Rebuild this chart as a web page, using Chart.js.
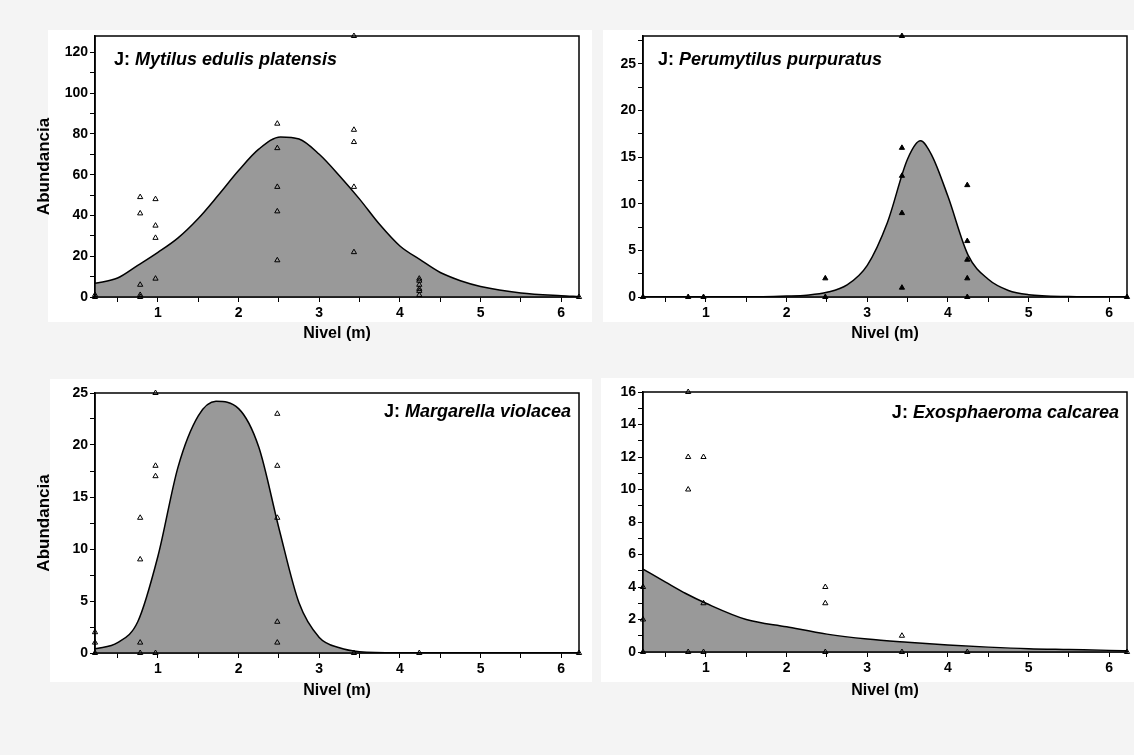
<!DOCTYPE html>
<html>
<head>
<meta charset="utf-8">
<script src="https://cdn.jsdelivr.net/npm/chart.js@4.4.1/dist/chart.umd.min.js"></script>
<style>
  body { margin: 0; background: #f4f4f4; width: 1134px; height: 755px; overflow: hidden; position: relative; font-family: "Liberation Sans", Arial, sans-serif; }
  .sheet { position: absolute; background: #fff; }
  .panel { position: absolute; }
</style>
</head>
<body>
<div class="sheet" style="left:48px;top:30px;width:544px;height:292px"></div>
<div class="sheet" style="left:603px;top:30px;width:531px;height:292px"></div>
<div class="sheet" style="left:50px;top:379px;width:542px;height:303px"></div>
<div class="sheet" style="left:601px;top:378px;width:533px;height:304px"></div>

<div class="panel" style="left:0;top:0"><canvas id="p1" width="590" height="362"></canvas></div>
<div class="panel" style="left:590px;top:0"><canvas id="p2" width="544" height="362"></canvas></div>
<div class="panel" style="left:0;top:362px"><canvas id="p3" width="590" height="393"></canvas></div>
<div class="panel" style="left:590px;top:362px"><canvas id="p4" width="544" height="393"></canvas></div>

<script>
// Nivel axis
const nivelMin = 0.22;
const nivelMax = 6.22;
const nivelTicks = [1, 2, 3, 4, 5, 6];

// Mytilus edulis platensis
const mytilusNivel = [0.22, 0.22, 0.78, 0.78, 0.78, 0.78, 0.78, 0.97, 0.97, 0.97, 0.97,
  2.48, 2.48, 2.48, 2.48, 2.48, 3.43, 3.43, 3.43, 3.43, 3.43, 4.24, 4.24, 4.24, 4.24, 4.24, 4.24, 6.22];
const mytilusAbund = [0, 1, 49, 41, 6, 1, 0, 48, 35, 29, 9,
  85, 73, 54, 42, 18, 128, 82, 76, 54, 22, 9, 8, 6, 4, 3, 1, 0];
const mytilusCurveNivel = [0.22, 0.5, 0.75, 1, 1.25, 1.5, 1.75, 2, 2.25, 2.52, 2.75, 3, 3.25, 3.5, 3.75, 4, 4.25, 4.5, 4.75, 5, 5.5, 6, 6.22];
const mytilusCurve = [6.7, 9.3, 15.5, 21.9, 29, 38.5, 50, 62, 72.5, 78.5, 77.5, 70, 59.5, 48, 35.5, 25, 18.3, 12, 8, 5.2, 2, 0.6, 0.2];
const mytilusTicks = [0, 20, 40, 60, 80, 100, 120];

// Perumytilus purpuratus
const perumytilusNivel = [0.22, 0.78, 0.97, 2.48, 2.48, 3.43, 3.43, 3.43, 3.43, 3.43, 4.24, 4.24, 4.24, 4.24, 4.24, 6.22];
const perumytilusAbund = [0, 0, 0, 2, 0, 28, 16, 13, 9, 1, 12, 6, 4, 2, 0, 0];
const perumytilusCurveNivel = [0.22, 1.5, 2, 2.25, 2.5, 2.75, 3, 3.25, 3.5, 3.66, 3.8, 4, 4.25, 4.5, 4.75, 5, 5.5, 6.22];
const perumytilusCurve = [0, 0, 0.1, 0.2, 0.5, 1.3, 3.4, 8, 14.8, 16.75, 15.2, 10.8, 4.5, 1.9, 0.7, 0.25, 0.05, 0];
const perumytilusTicks = [0, 5, 10, 15, 20, 25];

// Margarella violacea
const margarellaNivel = [0.22, 0.22, 0.22, 0.78, 0.78, 0.78, 0.78, 0.97, 0.97, 0.97, 0.97,
  2.48, 2.48, 2.48, 2.48, 2.48, 3.43, 4.24, 6.22];
const margarellaAbund = [2, 1, 0, 13, 9, 1, 0, 25, 18, 17, 0, 23, 18, 13, 3, 1, 0, 0, 0];
const margarellaCurveNivel = [0.22, 0.5, 0.75, 1, 1.25, 1.5, 1.72, 2, 2.25, 2.5, 2.75, 3, 3.25, 3.5, 4, 6.22];
const margarellaCurve = [0.4, 1.0, 3.0, 9.3, 17.9, 22.8, 24.2, 23.5, 19.8, 12, 4.8, 1.5, 0.5, 0.13, 0.02, 0];
const margarellaTicks = [0, 5, 10, 15, 20, 25];

// Exosphaeroma calcarea
const exosphaeromaNivel = [0.22, 0.22, 0.22, 0.78, 0.78, 0.78, 0.78, 0.97, 0.97, 0.97, 2.48, 2.48, 2.48, 3.43, 3.43, 4.24, 6.22];
const exosphaeromaAbund = [4, 2, 0, 16, 12, 10, 0, 12, 3, 0, 4, 3, 0, 1, 0, 0, 0];
const exosphaeromaCurveNivel = [0.22, 0.5, 0.75, 1, 1.5, 2, 2.5, 3, 3.5, 4, 4.5, 5, 5.5, 6, 6.22];
const exosphaeromaCurve = [5.1, 4.3, 3.6, 3.0, 2.0, 1.55, 1.1, 0.8, 0.6, 0.43, 0.3, 0.2, 0.15, 0.1, 0.08];
const exosphaeromaTicks = [0, 2, 4, 6, 8, 10, 12, 14, 16];

const FONT = '"Liberation Sans", Arial, sans-serif';

function pairs(xs, ys) {
  return xs.map((x, i) => ({ x: x, y: ys[i] }));
}

// majors plus a minor tick half way between them
function withMinor(majors, min, max) {
  const step = majors[1] - majors[0];
  const all = majors.slice();
  majors.forEach(m => all.push(m - step / 2));
  all.push(majors[majors.length - 1] + step / 2);
  return all.filter(v => v >= min - 1e-9 && v <= max + 1e-9).sort((a, b) => a - b);
}

// box around the plot area
const frame = {
  id: 'frame',
  afterDatasetsDraw(chart) {
    const { ctx, chartArea: a } = chart;
    ctx.save();
    ctx.strokeStyle = '#000';
    ctx.lineWidth = 1.5;
    ctx.strokeRect(a.left, a.top, a.right - a.left, a.bottom - a.top);
    ctx.restore();
  }
};

// "J: species" label inside the plot
const speciesTitle = {
  id: 'speciesTitle',
  afterDatasetsDraw(chart, args, opts) {
    const { ctx, chartArea: a } = chart;
    ctx.save();
    ctx.fillStyle = '#000';
    ctx.textBaseline = 'alphabetic';
    ctx.font = 'bold 18px ' + FONT;
    const w1 = ctx.measureText(opts.prefix).width;
    ctx.font = 'italic bold 18px ' + FONT;
    const w2 = ctx.measureText(opts.text).width;
    const x = opts.align === 'right' ? a.right - opts.dx - w1 - w2 : a.left + opts.dx;
    const y = a.top + opts.dy;
    ctx.font = 'bold 18px ' + FONT;
    ctx.fillText(opts.prefix, x, y);
    ctx.font = 'italic bold 18px ' + FONT;
    ctx.fillText(opts.text, x + w1, y);
    ctx.restore();
  }
};

function makePanel(cfg) {
  const canvas = document.getElementById(cfg.id);
  const yMinor = withMinor(cfg.yTicks, 0, cfg.yMax);
  const xMinor = withMinor(nivelTicks, nivelMin, nivelMax);
  new Chart(canvas, {
    data: {
      datasets: [
        {
          type: 'scatter',
          data: pairs(cfg.nivel, cfg.abund),
          pointStyle: 'triangle',
          pointRadius: 3,
          pointBorderWidth: 1,
          pointBorderColor: '#000',
          pointBackgroundColor: cfg.solid ? '#000' : 'rgba(0,0,0,0)',
          clip: false
        },
        {
          type: 'line',
          data: pairs(cfg.curveNivel, cfg.curve),
          borderColor: '#000',
          borderWidth: 1.5,
          backgroundColor: '#999999',
          fill: 'origin',
          pointRadius: 0,
          cubicInterpolationMode: 'monotone'
        }
      ]
    },
    options: {
      responsive: false,
      animation: false,
      layout: { padding: { left: 0, top: cfg.top, right: canvas.width - cfg.right, bottom: 0 } },
      plugins: {
        legend: { display: false },
        tooltip: { enabled: false },
        speciesTitle: cfg.title
      },
      scales: {
        x: {
          type: 'linear',
          min: nivelMin,
          max: nivelMax,
          afterBuildTicks: s => { s.ticks = xMinor.map(v => ({ value: v })); },
          afterFit: s => { s.height = canvas.height - cfg.bottom; },
          ticks: {
            autoSkip: false,
            maxRotation: 0,
            padding: 3,
            color: '#000',
            font: { family: FONT, size: 14, weight: 'bold' },
            callback: v => nivelTicks.includes(v) ? String(v) : ''
          },
          grid: { drawOnChartArea: false, tickLength: 5, color: '#000', lineWidth: 1 },
          border: { color: '#000', width: 1.5 },
          title: {
            display: true,
            text: 'Nivel (m)',
            color: '#000',
            font: { family: FONT, size: 16, weight: 'bold' },
            padding: { top: 0, bottom: cfg.xTitlePad }
          }
        },
        y: {
          type: 'linear',
          min: 0,
          max: cfg.yMax,
          afterBuildTicks: s => { s.ticks = yMinor.map(v => ({ value: v })); },
          afterFit: s => { s.width = cfg.left; },
          ticks: {
            autoSkip: false,
            padding: 2,
            color: '#000',
            font: { family: FONT, size: 14, weight: 'bold' },
            callback: v => cfg.yTicks.includes(v) ? String(v) : ''
          },
          grid: { drawOnChartArea: false, tickLength: 5, color: '#000', lineWidth: 1 },
          border: { color: '#000', width: 1.5 },
          title: {
            display: cfg.yTitle,
            text: 'Abundancia',
            color: '#000',
            font: { family: FONT, size: 17, weight: 'bold' },
            padding: { top: 34, bottom: 0 }
          }
        }
      }
    },
    plugins: [frame, speciesTitle]
  });
}

makePanel({
  id: 'p1', left: 95, top: 36, right: 579, bottom: 297, xTitlePad: 19, yTitle: true,
  nivel: mytilusNivel, abund: mytilusAbund, curveNivel: mytilusCurveNivel, curve: mytilusCurve,
  yTicks: mytilusTicks, yMax: 128, solid: false,
  title: { prefix: 'J: ', text: 'Mytilus edulis platensis', align: 'left', dx: 19, dy: 29 }
});
makePanel({
  id: 'p2', left: 53, top: 36, right: 537, bottom: 297, xTitlePad: 19, yTitle: false,
  nivel: perumytilusNivel, abund: perumytilusAbund, curveNivel: perumytilusCurveNivel, curve: perumytilusCurve,
  yTicks: perumytilusTicks, yMax: 28, solid: true,
  title: { prefix: 'J: ', text: 'Perumytilus purpuratus', align: 'left', dx: 15, dy: 29 }
});
makePanel({
  id: 'p3', left: 95, top: 31, right: 579, bottom: 291, xTitlePad: 55, yTitle: true,
  nivel: margarellaNivel, abund: margarellaAbund, curveNivel: margarellaCurveNivel, curve: margarellaCurve,
  yTicks: margarellaTicks, yMax: 25, solid: false,
  title: { prefix: 'J: ', text: 'Margarella violacea', align: 'right', dx: 8, dy: 24 }
});
makePanel({
  id: 'p4', left: 53, top: 30, right: 537, bottom: 290, xTitlePad: 55, yTitle: false,
  nivel: exosphaeromaNivel, abund: exosphaeromaAbund, curveNivel: exosphaeromaCurveNivel, curve: exosphaeromaCurve,
  yTicks: exosphaeromaTicks, yMax: 16, solid: false,
  title: { prefix: 'J: ', text: 'Exosphaeroma calcarea', align: 'right', dx: 8, dy: 26 }
});
</script>
</body>
</html>
